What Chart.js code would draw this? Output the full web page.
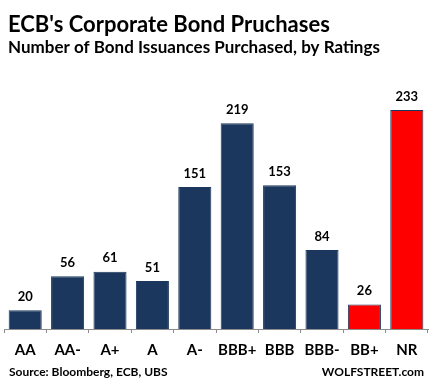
<!DOCTYPE html>
<html lang="en">
<head>
<meta charset="UTF-8">
<title>ECB Corporate Bond Purchases</title>
<style>
  body { margin: 0; background: #fff; }
  #wrap { width: 437px; height: 389px; }
</style>
</head>
<body>
<div id="wrap"><canvas id="myChart" width="437" height="389"></canvas></div>
<script src="https://cdn.jsdelivr.net/npm/chart.js"></script>
<script>
const ratings = ['AA', 'AA-', 'A+', 'A', 'A-', 'BBB+', 'BBB', 'BBB-', 'BB+', 'NR'];
const purchases = [20, 56, 61, 51, 151, 219, 153, 84, 26, 233];
const junkOrUnrated = ['BB+', 'NR'];

const titleText = "ECB's Corporate Bond Pruchases";
const subtitleText = 'Number of Bond Issuances Purchased, by Ratings';
const sourceText = 'Source: Bloomberg, ECB, UBS';
const brandText = 'WOLFSTREET.com';

const navy = '#1b375d';
const red = '#ff0000';
const FONT = 'Lato, "Open Sans", sans-serif';

const barColors = ratings.map(r => junkOrUnrated.includes(r) ? red : navy);

// value labels above bars + headings/footer
const textPlugin = {
  id: 'textPlugin',
  afterDatasetsDraw(chart) {
    const ctx = chart.ctx;
    const meta = chart.getDatasetMeta(0);
    ctx.save();
    ctx.fillStyle = '#000';
    ctx.font = 'bold 13px ' + FONT;
    ctx.textAlign = 'center';
    ctx.textBaseline = 'bottom';
    meta.data.forEach((bar, i) => {
      ctx.fillText(purchases[i], bar.x, bar.y - 7);
    });
    ctx.restore();
  },
  afterDraw(chart) {
    const ctx = chart.ctx;
    ctx.save();
    ctx.fillStyle = '#000';
    ctx.textBaseline = 'alphabetic';
    ctx.textAlign = 'left';
    ctx.font = 'bold 22px ' + FONT;
    ctx.fillText(titleText, 8, 32);
    ctx.font = 'bold 17px ' + FONT;
    ctx.fillText(subtitleText, 8, 53);
    ctx.font = 'bold 12px ' + FONT;
    ctx.fillText(sourceText, 9, 376);
    ctx.textAlign = 'right';
    ctx.fillText(brandText, 424, 376);
    ctx.restore();
  }
};

const ctx = document.getElementById('myChart');
new Chart(ctx, {
  type: 'bar',
  data: {
    labels: ratings,
    datasets: [{
      data: purchases,
      backgroundColor: barColors,
      borderColor: navy,
      borderWidth: 1,
      categoryPercentage: 0.78,
      barPercentage: 1.0
    }]
  },
  options: {
    responsive: false,
    animation: false,
    layout: { padding: { left: 4, right: 9, top: 94, bottom: 22 } },
    plugins: {
      legend: { display: false },
      tooltip: { enabled: false }
    },
    scales: {
      x: {
        grid: {
          display: true,
          drawOnChartArea: false,
          drawTicks: true,
          tickLength: 4,
          color: '#8c8c8c'
        },
        border: { display: true, color: '#8c8c8c' },
        ticks: {
          color: '#000',
          padding: 8,
          maxRotation: 0,
          minRotation: 0,
          autoSkip: false,
          font: { family: FONT, size: 15, weight: 'bold' }
        }
      },
      y: {
        display: false,
        min: 0,
        max: 250
      }
    }
  },
  plugins: [textPlugin]
});
</script>
</body>
</html>
